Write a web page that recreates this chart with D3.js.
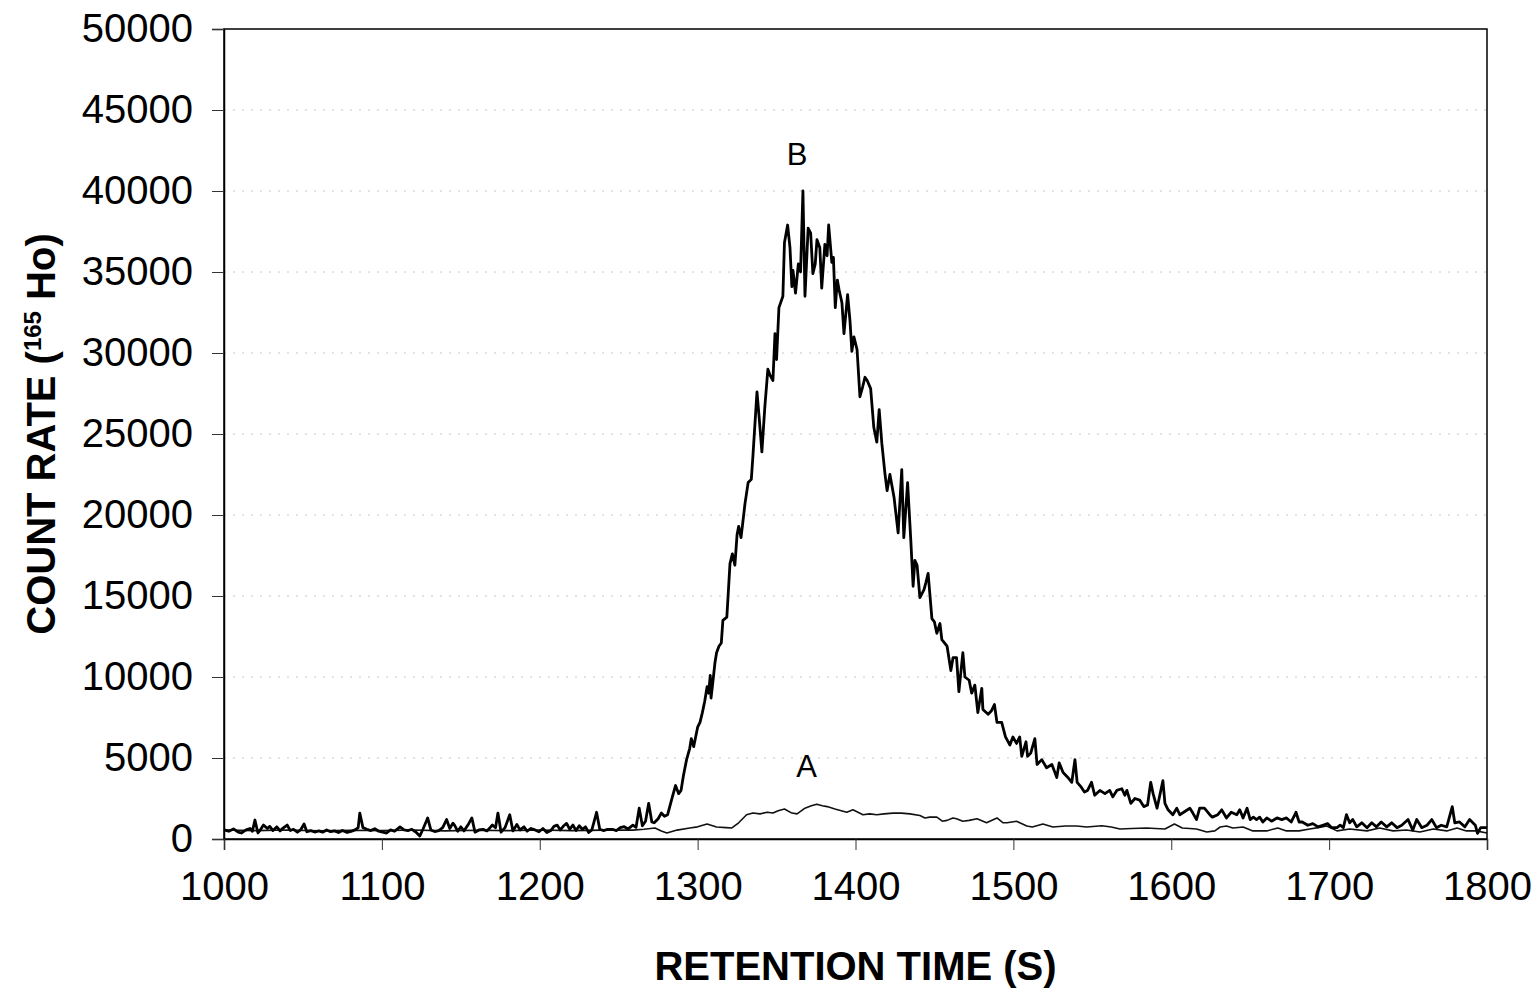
<!DOCTYPE html>
<html>
<head>
<meta charset="utf-8">
<script src="https://cdn.jsdelivr.net/npm/d3@7"></script>
<style>
  html, body { margin: 0; padding: 0; background: #fff; }
  svg { display: block; }
  text { font-family: "Liberation Sans", Arial, Helvetica, sans-serif; fill: #000; }
</style>
</head>
<body>
<svg id="chart" width="1540" height="990"></svg>
<script>
// ---------- data ----------
const xTicks = [1000, 1100, 1200, 1300, 1400, 1500, 1600, 1700, 1800];
const yTicks = [0, 5000, 10000, 15000, 20000, 25000, 30000, 35000, 40000, 45000, 50000];
const xTitle = "RETENTION TIME (S)";
const yTitleMain = "COUNT RATE (";
const yTitleSup = "165";
const yTitleEnd = " Ho)";
const seriesLabels = [{name: "B", t: 1363, v: 41600}, {name: "A", t: 1369, v: 3800}];

// series B (thick line): [retention time s, counts]
const seriesB = [
[1000,560],[1003,480],[1006,620],[1009,420],[1011,370],[1014,560],[1016.5,650],[1018,480],[1019.6,1170],[1021.5,370],
[1023,560],[1025,860],[1027.5,650],[1029,780],[1031,520],[1033.5,750],[1035.5,500],[1037,640],[1040,860],[1042,520],
[1044,600],[1046.5,420],[1048.5,560],[1050.7,930],[1052.5,450],[1055,520],[1057.5,430],[1060,500],[1062.5,420],[1065,560],
[1067.5,450],[1070,500],[1072.5,400],[1075,530],[1078,400],[1080.5,470],[1083,560],[1085,700],[1086,1600],[1088,700],
[1090.5,600],[1093,520],[1095.5,640],[1098,480],[1100.5,420],[1103,370],[1105.5,560],[1108,480],[1111.5,750],[1114,560],
[1116.5,520],[1119,600],[1121.5,430],[1124,180],[1126,600],[1129,1300],[1131,560],[1133.5,460],[1136,520],[1138.5,700],
[1141,1200],[1143,650],[1145,980],[1146,860],[1148,480],[1150,750],[1152,500],[1154.5,860],[1157,1300],[1159,420],
[1161.5,560],[1164,600],[1166.5,500],[1168.5,700],[1170,860],[1172,700],[1173.5,1600],[1175.5,420],[1178,700],[1181,1500],
[1183,500],[1185.5,900],[1187.5,560],[1190,750],[1192,480],[1194.5,650],[1197,560],[1199.5,450],[1202,650],[1204.5,400],
[1207,520],[1209,780],[1211,860],[1213,560],[1215,800],[1217,960],[1219,600],[1221,860],[1223,520],[1225,820],
[1227,600],[1229,750],[1231,400],[1233,560],[1236,1650],[1238,600],[1240.5,520],[1243,600],[1246,600],[1248.5,520],
[1251,700],[1253.5,760],[1256,620],[1259,860],[1261,720],[1263,1900],[1265,820],[1267,1100],[1269,2200],[1271,1050],
[1272.5,1000],[1275,1250],[1277,1600],[1279,1400],[1281,1500],[1284,2600],[1286,3300],[1288,2800],[1289.5,3000],[1291,3900],
[1293,4900],[1295,5600],[1296,6200],[1297.5,5700],[1300,6900],[1301.5,7200],[1303,7800],[1304.5,8500],[1306,9400],[1307,9000],
[1308,10100],[1308.5,8700],[1310,10000],[1311,10900],[1312,11500],[1313.5,11900],[1315,12100],[1316,13500],[1318.5,13700],[1320.5,17000],
[1322,17600],[1323.6,16900],[1325,18800],[1326,19300],[1327.5,18600],[1330,20700],[1332,22000],[1334,22200],[1335,23600],[1337.6,27600],
[1339,26000],[1340.7,23900],[1342.6,26700],[1344.5,29000],[1346,28600],[1347.7,28300],[1349,31200],[1350,29600],[1351.5,32800],[1354,33500],
[1355,36800],[1357,37900],[1358.5,36500],[1359.7,34100],[1360.4,35100],[1362,33700],[1363.8,35500],[1365.2,35000],[1366.7,40000],[1368,33500],
[1370,37700],[1371.6,37400],[1373,34900],[1374.5,35500],[1375.6,37000],[1377.4,36500],[1378.6,34000],[1380.6,36700],[1382,36000],[1383,37900],
[1385,35600],[1386,35900],[1387.2,32800],[1388.5,34500],[1389.6,33900],[1391.4,33100],[1392.7,31200],[1395,33600],[1396.5,32000],[1397.7,30100],
[1399,31000],[1401,30200],[1402.8,27300],[1404.5,27900],[1406,28500],[1407.4,28300],[1409.6,27800],[1411.6,25400],[1413.5,24500],[1415,26500],
[1416.7,24400],[1418.6,22600],[1420,21500],[1421.8,22500],[1424.4,21100],[1427,18900],[1429.3,22800],[1430.6,18600],[1433,22000],[1435,18500],
[1436.5,15600],[1437.6,17200],[1439,16900],[1440.8,14900],[1443.4,15400],[1444.5,15800],[1446,16400],[1448.4,13600],[1450,13400],[1451.5,12700],
[1453.5,13300],[1454.7,12300],[1458,11900],[1460.4,10400],[1461.8,11200],[1464,11200],[1465.5,9100],[1468,11500],[1469.3,10000],[1472,9800],
[1473.6,9000],[1475.6,9500],[1477.5,7800],[1480,9300],[1480.7,8000],[1484,7700],[1486,7900],[1488,8300],[1489.6,7200],[1492.6,7200],
[1495,6300],[1497.8,5800],[1499.7,6300],[1502,5900],[1504,6300],[1505.3,5100],[1508,6000],[1509,5100],[1511,5300],[1513.6,6200],
[1515,4600],[1518,4900],[1521,4400],[1524.4,4600],[1527.5,3800],[1529,4700],[1531.5,4100],[1534.5,3800],[1537,3500],[1539,4900],
[1540.4,3500],[1543,3200],[1545,2900],[1547,3000],[1549.5,3500],[1551.5,2700],[1554.8,3000],[1558,2800],[1561,3000],[1563,2600],
[1565.5,3000],[1568.7,3100],[1570.6,2700],[1571.9,3000],[1574.4,2200],[1577,2500],[1580,2400],[1582.6,2000],[1585,2100],[1587,3500],
[1588.5,2800],[1591,1900],[1594.7,3600],[1596,2200],[1598,1800],[1601,1500],[1603.5,1900],[1605.4,1500],[1608.6,1700],[1611.8,1900],
[1613.7,1600],[1616,1200],[1618,1900],[1621,1900],[1624.4,1500],[1626,1350],[1629.5,1500],[1632,1800],[1635,1300],[1638,1650],
[1641.5,1500],[1643.4,1800],[1645.5,1300],[1648,1900],[1650,1200],[1652,1350],[1654,1200],[1656,1350],[1658,1050],[1660.5,1300],
[1663.5,1100],[1667,1300],[1670,1200],[1673,1300],[1676,1050],[1679,1650],[1681,1050],[1683,1050],[1686.5,850],[1689.7,950],
[1693,750],[1696,850],[1699,950],[1701.6,700],[1705,700],[1707,850],[1709,700],[1711,1500],[1713,1000],[1715,1200],
[1717.5,750],[1720.7,1000],[1724,700],[1727,1000],[1730,750],[1733,1050],[1736.5,750],[1739.6,1000],[1743,700],[1746,850],
[1750,1200],[1753,550],[1755.5,1200],[1758.7,700],[1762,850],[1765,1200],[1768,700],[1771,850],[1774.5,750],[1778,2000],
[1779.6,1000],[1782.6,1050],[1786,750],[1789,1200],[1792.6,850],[1794,350],[1796,700],[1800,700]
];

// series A (thin line)
const seriesA = [
[1000,560],[1020,520],[1040,560],[1060,500],[1080,540],[1100,520],[1120,560],[1140,500],[1160,540],[1180,520],
[1200,560],[1220,520],[1240,550],[1259,550],[1266,600],[1273,680],[1277,500],[1280.5,370],[1287,550],[1295,680],
[1300,750],[1306,930],[1312,740],[1318,700],[1321.7,680],[1326,1000],[1331,1500],[1335,1600],[1339.5,1550],[1344,1650],
[1347.7,1600],[1351,1750],[1355,1850],[1359.7,1600],[1363,1550],[1368,1900],[1372,2050],[1375.5,2150],[1379,2050],[1382,2000],
[1387,1850],[1391,1750],[1394.5,1650],[1398.4,1800],[1404.7,1500],[1409,1550],[1413.5,1500],[1418,1550],[1423.8,1600],[1429,1600],
[1434.5,1550],[1440.8,1450],[1444,1300],[1447,1350],[1451.5,1350],[1455,1100],[1458,1150],[1461.7,1300],[1464,1250],[1468,1100],
[1472,1150],[1477,1250],[1483,1000],[1489.6,1300],[1493.5,1000],[1496,1000],[1502,1100],[1508.5,800],[1512,740],[1518.7,930],
[1525,740],[1533,800],[1540,800],[1546.5,740],[1556,820],[1562,740],[1567.5,620],[1575,650],[1584.5,680],[1590,650],
[1596,620],[1602,930],[1607,680],[1616,620],[1622.5,430],[1627.6,500],[1631,740],[1635,800],[1639,680],[1645.5,740],
[1651.7,500],[1660.5,500],[1667.5,680],[1673,500],[1681,500],[1687.7,620],[1693,700],[1698.5,800],[1705,500],[1713,620],
[1724,500],[1732,680],[1740.5,500],[1749,555],[1757.5,430],[1766,620],[1774.5,500],[1781,680],[1787,500],[1793,500],[1800,370]
];

// ---------- drawing ----------
const svg = d3.select("#chart");
const plotLeft = 224, plotRight = 1487, plotTop = 29, plotBottom = 839;
const x = d3.scaleLinear().domain([1000, 1800]).range([plotLeft, plotRight]);
const y = d3.scaleLinear().domain([0, 50000]).range([plotBottom, plotTop]);

// gridlines
svg.append("g").selectAll("line")
  .data(yTicks.filter(v => v > 0 && v < 50000))
  .join("line")
  .attr("x1", plotLeft).attr("x2", plotRight)
  .attr("y1", d => y(d)).attr("y2", d => y(d))
  .attr("stroke", "#c8c8c8").attr("stroke-width", 1)
  .attr("stroke-dasharray", "2,7");

// series lines
const line = d3.line().x(d => x(d[0])).y(d => y(d[1]));
svg.append("path").datum(seriesA)
  .attr("d", line).attr("fill", "none")
  .attr("stroke", "#111").attr("stroke-width", 1.6).attr("stroke-linejoin", "round");
svg.append("path").datum(seriesB)
  .attr("d", line).attr("fill", "none")
  .attr("stroke", "#000").attr("stroke-width", 2.8).attr("stroke-linejoin", "round");

// frame
svg.append("rect")
  .attr("x", plotLeft).attr("y", plotTop).attr("width", plotRight - plotLeft).attr("height", plotBottom - plotTop)
  .attr("fill", "none").attr("stroke", "#000").attr("stroke-width", 1.5);

// axes
const yAxis = d3.axisLeft(y).tickValues(yTicks).tickSize(12).tickPadding(19).tickFormat(d3.format("d"));
const gy = svg.append("g").attr("transform", `translate(${plotLeft},0)`).call(yAxis);
gy.select(".domain").attr("stroke", "#000").attr("stroke-width", 1.5);
gy.selectAll(".tick line").attr("stroke", "#333").attr("stroke-width", 1);
gy.selectAll("text").style("font-size", "40px").attr("font-family", null);

const xAxis = d3.axisBottom(x).tickValues(xTicks).tickSize(11).tickPadding(22).tickFormat(d3.format("d"));
const gx = svg.append("g").attr("transform", `translate(0,${plotBottom})`).call(xAxis);
gx.select(".domain").attr("stroke", "#000").attr("stroke-width", 1.5);
gx.selectAll(".tick line").attr("stroke", "#333").attr("stroke-width", 1);
gx.selectAll("text").style("font-size", "40px").attr("font-family", null);

// axis titles
svg.append("text")
  .attr("x", (plotLeft + plotRight) / 2).attr("y", 980)
  .attr("text-anchor", "middle")
  .style("font-size", "40px").style("font-weight", "bold")
  .text(xTitle);

const yt = svg.append("text")
  .attr("transform", "translate(55,434) rotate(-90)")
  .attr("text-anchor", "middle")
  .style("font-size", "40px").style("font-weight", "bold");
yt.append("tspan").text(yTitleMain);
yt.append("tspan").attr("dy", -14).style("font-size", "24px").text(yTitleSup);
yt.append("tspan").attr("dy", 14).text(yTitleEnd);

// series labels
svg.append("g").selectAll("text")
  .data(seriesLabels)
  .join("text")
  .attr("x", d => x(d.t)).attr("y", d => y(d.v))
  .attr("text-anchor", "middle")
  .style("font-size", "31px")
  .text(d => d.name);
</script>
</body>
</html>
